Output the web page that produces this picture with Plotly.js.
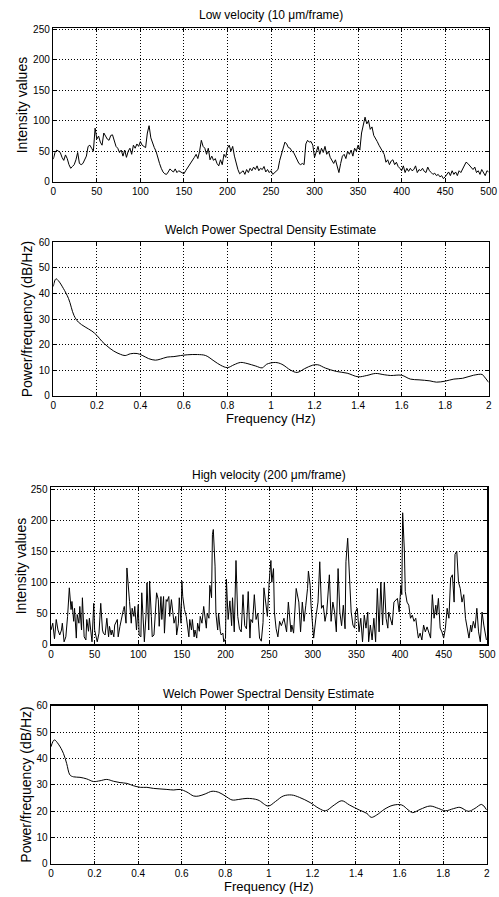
<!DOCTYPE html>
<html>
<head>
<meta charset="utf-8">
<script src="https://cdn.plot.ly/plotly-3.0.1.min.js"></script>
<style>html,body{margin:0;padding:0;background:#fff;}#chart{width:499px;height:897px;}</style>
</head>
<body>
<div id="chart"></div>
<script>
// Low velocity intensity, sampled every 2 frames (frames 0..500)
const lowStep = 2;
const lowValues = [
37,48,52,50,48,40,35,44,38,28,
22,25,28,36,48,30,28,30,35,42,
58,60,55,50,88,70,75,65,60,80,
75,70,68,76,77,65,58,55,48,52,
42,52,40,50,55,45,60,55,62,58,
66,60,58,56,80,92,72,62,56,50,
38,30,22,16,13,12,16,21,18,16,
21,15,18,16,15,13,18,22,26,30,
36,40,45,38,50,68,58,55,45,55,
36,42,35,38,30,26,36,28,45,40,
55,60,50,58,42,30,20,13,15,18,
12,20,15,22,18,24,20,26,18,22,
20,25,16,20,15,18,12,15,18,20,
35,45,55,65,62,56,55,50,48,42,
36,30,28,30,28,62,68,65,66,60,
40,50,58,45,55,48,58,45,50,40,
36,30,36,25,15,30,42,45,38,50,
45,52,42,55,50,60,52,80,92,106,
95,100,86,90,76,72,66,60,55,50,
45,32,36,28,34,36,28,32,25,22,
18,26,15,22,17,22,18,20,26,15,
20,18,22,17,15,24,18,15,12,14,
10,12,8,10,5,8,12,16,10,18,
12,16,10,18,15,20,26,32,30,26,
24,20,24,15,18,12,20,15,10,18,
16];

// High velocity intensity (frame, value)
const highFrames = [
0,2,4,6,8,10,12,13,15,17,19,21,23,24,26,27,29,30,32,33,35,36,38,40,41,43,44,46,47,49,
50,52,53,55,57,59,60,62,64,66,67,69,70,72,73,76,77,79,80,83,84,86,87,89,90,92,93,95,96,98,
100,101,103,104,106,107,109,110,112,113,115,116,118,120,121,123,124,126,127,129,130,132,133,135,136,138,140,141,143,144,
146,147,149,150,151,153,155,156,158,159,161,162,164,165,167,168,170,171,173,175,176,178,179,181,182,184,185,186,188,189,
191,192,194,195,197,198,200,201,203,205,207,208,210,212,214,216,218,220,222,224,226,228,229,231,233,235,237,239,241,243,
244,246,248,250,252,253,255,256,258,260,262,264,267,270,271,272,275,276,278,281,284,286,288,290,292,294,295,297,298,300,
301,304,306,308,310,312,314,316,318,319,321,323,325,327,329,331,333,335,337,338,340,342,344,346,348,349,351,353,355,357,
359,361,363,364,366,368,370,372,374,376,378,380,382,384,386,387,389,391,393,395,397,399,401,402,403,405,406,408,410,412,
414,416,418,420,421,423,425,427,429,431,433,435,437,439,441,442,444,446,448,450,452,454,456,458,460,462,463,465,467,469,
471,473,475,477,479,481,482,484,486,488,490,492,494,496,498,499];
const highValues = [
23,34,9,40,23,15,23,34,4,12,45,91,56,69,37,58,10,48,34,61,23,75,12,7,40,21,42,12,4,66,
23,10,4,18,66,23,18,15,42,12,29,15,23,12,31,40,12,29,37,56,61,34,123,77,69,34,58,45,61,23,
64,15,12,83,12,4,50,99,23,102,45,12,15,56,83,72,29,77,40,77,18,72,69,77,45,72,45,34,45,15,
34,75,34,102,77,56,45,31,12,40,23,40,12,23,10,34,21,45,34,61,48,26,50,42,95,75,177,185,126,50,
23,50,21,15,18,4,10,105,40,70,30,75,20,135,45,25,20,80,30,25,85,10,40,35,80,40,50,10,5,35,
91,65,45,100,135,100,122,52,25,12,37,30,42,20,37,68,20,31,18,90,68,20,68,37,63,90,118,95,63,15,
10,48,68,133,58,63,37,52,95,112,37,68,52,20,122,52,30,63,25,133,171,95,52,31,26,52,58,20,42,4,
47,26,52,4,31,7,42,4,90,20,100,31,100,42,26,52,42,31,68,71,74,52,95,80,212,150,85,68,63,42,
47,37,42,20,10,18,7,31,20,28,20,10,80,42,63,47,74,26,20,10,26,58,42,107,112,68,145,150,100,90,
68,80,42,26,10,31,20,37,26,58,20,4,52,31,10,7];

// Welch PSD, low velocity
const psdLowFreq = [0,0.012,0.023,0.046,0.07,0.095,0.115,0.146,0.177,0.2,0.223,0.246,0.277,0.308,0.33,0.354,0.385,0.408,0.438,0.469,0.492,0.523,0.554,0.585,0.615,0.662,0.7,0.738,0.769,0.8,0.83,0.86,0.89,0.93,0.96,0.98,1.02,1.05,1.09,1.12,1.155,1.19,1.215,1.25,1.3,1.35,1.4,1.44,1.48,1.52,1.55,1.6,1.64,1.68,1.73,1.76,1.8,1.84,1.88,1.93,1.97,1.98,2.0];
const psdLowDb = [42.7,45.7,45,42,38,31.4,28.8,26.9,25.3,23.6,21.3,19.5,17.5,16.2,15.7,16.4,16.5,15.8,14.5,13.9,14.3,15.1,15.3,15.7,16,16.1,15.7,13.6,11.9,11,12.1,13,12.6,11.6,10.9,12.3,13,12.3,10,9.1,10.6,11.9,12.1,10.8,9.5,8.8,7.4,7.9,8.7,8.2,7.9,8.0,6.5,6.2,5.8,5.3,5.7,6.5,6.8,8,8.3,7.4,5.2];

// Welch PSD, high velocity
const psdHighFreq = [0,0.015,0.034,0.057,0.072,0.087,0.103,0.133,0.164,0.195,0.225,0.256,0.287,0.317,0.348,0.379,0.41,0.44,0.47,0.5,0.532,0.563,0.593,0.624,0.655,0.678,0.708,0.739,0.77,0.8,0.831,0.862,0.9,0.95,0.997,1.03,1.066,1.104,1.14,1.19,1.23,1.26,1.3,1.335,1.37,1.415,1.45,1.47,1.495,1.533,1.57,1.61,1.64,1.66,1.694,1.74,1.778,1.81,1.847,1.877,1.916,1.946,1.977,2.0];
const psdHighDb = [44.4,47,45.4,41.9,38,33.7,33,32.8,32.2,31.2,31.5,32,31.3,30.8,30.5,29.6,29,29,28.6,28.4,28.2,28,28.2,27.2,25.7,25.7,26.5,27.5,27.1,25.7,24.2,24.4,24.8,24.2,21.9,23.6,25.7,26.1,25.2,23.2,21,20.1,22.3,23.9,22.3,20.4,19.1,17.6,18.5,20.8,22.2,22.3,20.4,19.4,20.6,21.9,21,20.1,20.9,21.4,19.9,21,22.5,20.4];

const frameTicks = [0,50,100,150,200,250,300,350,400,450,500];
const freqTicks = [0,0.2,0.4,0.6,0.8,1,1.2,1.4,1.6,1.8,2];
const intensityTicks = [0,50,100,150,200,250];
const dbTicks = [0,10,20,30,40,50,60];

const titles = ['Low velocity (10 \u03bcm/frame)', 'Welch Power Spectral Density Estimate', 'High velocity (200 \u03bcm/frame)', 'Welch Power Spectral Density Estimate'];
const yTitles = ['Intensity values', 'Power/frequency (dB/Hz)', 'Intensity values', 'Power/frequency (dB/Hz)'];
const xTitle = 'Frequency (Hz)';

const W = 499, H = 897;
const FONT = 'Liberation Sans, Arial, sans-serif';

const lineStyle = {color: '#000', width: 1};
const traces = [
  {x: lowValues.map((v, i) => i * lowStep), y: lowValues, type: 'scatter', mode: 'lines', line: lineStyle, xaxis: 'x', yaxis: 'y'},
  {x: psdLowFreq, y: psdLowDb, type: 'scatter', mode: 'lines', line: Object.assign({shape: 'spline'}, lineStyle), xaxis: 'x2', yaxis: 'y2'},
  {x: highFrames, y: highValues, type: 'scatter', mode: 'lines', line: lineStyle, xaxis: 'x3', yaxis: 'y3'},
  {x: psdHighFreq, y: psdHighDb, type: 'scatter', mode: 'lines', line: Object.assign({shape: 'spline'}, lineStyle), xaxis: 'x4', yaxis: 'y4'}
];

// pixel boxes of the 4 panels: [left, right, top, bottom]
const boxes = [
  [53.3, 488.7, 28.3, 181.7],
  [53.3, 488.7, 242.3, 395.7],
  [51, 487.3, 487.3, 644.3],
  [51, 486.7, 705.7, 863.7]
];
const xRanges = [[0,500],[0,2],[0,500],[0,2]];
const yRanges = [[0,252],[0,60],[0,253],[0,60]];
const xTickSets = [frameTicks, freqTicks, frameTicks, freqTicks];
const yTickSets = [intensityTicks, dbTicks, intensityTicks, dbTicks];
const titleY = [15, 230, 475, 694];
const yTitleX = [22.3, 27.3, 20.5, 26];
const xTitleY = [null, 418, null, 886];

function axisBase() {
  return {
    showgrid: true, gridcolor: '#000', gridwidth: 1, griddash: '1px,2px',
    showline: true, linecolor: '#000', linewidth: 1.5, mirror: 'ticks',
    ticks: 'inside', ticklen: 3, tickcolor: '#000', tickwidth: 1,
    zeroline: false, fixedrange: true,
    tickfont: {family: FONT, size: 10, color: '#000'}
  };
}

const layout = {
  width: W, height: H,
  margin: {l: 0, r: 0, t: 0, b: 0, pad: 0},
  paper_bgcolor: '#fff', plot_bgcolor: '#fff',
  showlegend: false,
  annotations: []
};

boxes.forEach((b, i) => {
  const n = i === 0 ? '' : String(i + 1);
  const xa = axisBase();
  xa.domain = [b[0] / W, b[1] / W];
  xa.range = xRanges[i];
  xa.tickmode = 'array';
  xa.tickvals = xTickSets[i];
  xa.ticktext = xTickSets[i].map(String);
  xa.anchor = 'y' + n;
  const ya = axisBase();
  ya.domain = [1 - b[3] / H, 1 - b[2] / H];
  ya.range = yRanges[i];
  ya.tickmode = 'array';
  ya.tickvals = yTickSets[i];
  ya.ticktext = yTickSets[i].map(String);
  ya.anchor = 'x' + n;
  layout['xaxis' + n] = xa;
  layout['yaxis' + n] = ya;

  layout.annotations.push({
    text: titles[i], xref: 'paper', yref: 'paper',
    x: (b[0] + b[1]) / 2 / W, y: 1 - titleY[i] / H,
    xanchor: 'center', yanchor: 'middle', showarrow: false,
    font: {family: FONT, size: 12, color: '#000'}
  });
  layout.annotations.push({
    text: yTitles[i], xref: 'paper', yref: 'paper',
    x: yTitleX[i] / W, y: 1 - (b[2] + b[3]) / 2 / H,
    xanchor: 'center', yanchor: 'middle', textangle: -90, showarrow: false,
    font: {family: FONT, size: 14, color: '#000'}
  });
  if (xTitleY[i] !== null) {
    layout.annotations.push({
      text: xTitle, xref: 'paper', yref: 'paper',
      x: (b[0] + b[1]) / 2 / W, y: 1 - xTitleY[i] / H,
      xanchor: 'center', yanchor: 'middle', showarrow: false,
      font: {family: FONT, size: 13, color: '#000'}
    });
  }
});

Plotly.newPlot('chart', traces, layout, {staticPlot: true, displayModeBar: false});
</script>
</body>
</html>
